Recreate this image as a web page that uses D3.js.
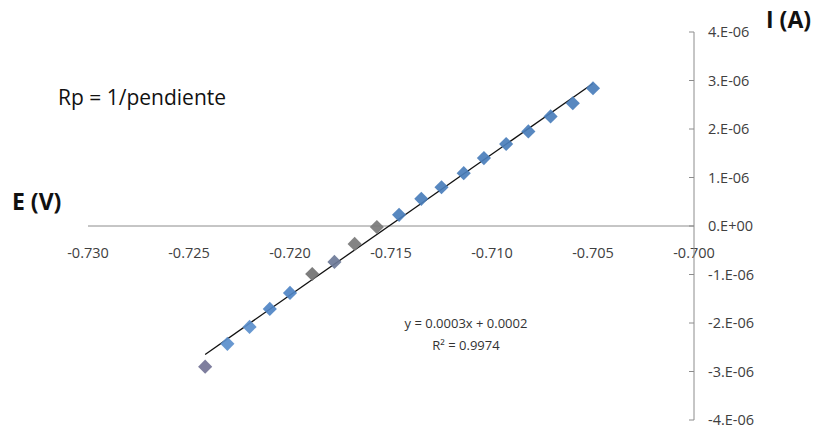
<!DOCTYPE html>
<meta charset="utf-8">
<title>Rp - pendiente</title>
<script src="https://d3js.org/d3.v7.min.js"></script>
<style>
  body { margin: 0; background: #fff; }
  .tick-label { font: 14.5px "Open Sans", "Liberation Sans", sans-serif; fill: #404040; }
  .note { font: 21px "Open Sans", "Liberation Sans", sans-serif; fill: #111; }
  .axis-title { font: bold 23px "Open Sans", "Liberation Sans", sans-serif; fill: #111; }
  .eq { font: 13px "Open Sans", "Liberation Sans", sans-serif; fill: #333; }
</style>
<body>
<svg width="823" height="430"></svg>
<script>
  // potential E (V)
  var potential = [-0.7242, -0.7231, -0.7220, -0.7210, -0.7200, -0.7189, -0.7178, -0.7168, -0.7157, -0.7146,
    -0.7135, -0.7125, -0.7114, -0.7104, -0.7093, -0.7082, -0.7071, -0.7060, -0.7050];
  // current I (A)
  var current = [-2.90e-6, -2.43e-6, -2.08e-6, -1.71e-6, -1.38e-6, -0.99e-6, -0.74e-6, -0.37e-6, -0.02e-6, 0.23e-6,
    0.56e-6, 0.80e-6, 1.09e-6, 1.40e-6, 1.69e-6, 1.95e-6, 2.26e-6, 2.53e-6, 2.84e-6];
  // marker colours as they appear in the picture
  var markerColor = ["#737396", "#5b8fcc", "#5b8fcc", "#4f84c4", "#4f84c4", "#727272", "#6c7a98", "#7a7a7a", "#7a7a7a", "#4a7ebb",
    "#4a7ebb", "#4a7ebb", "#4a7ebb", "#4a7ebb", "#4a7ebb", "#4a7ebb", "#4a7ebb", "#4a7ebb", "#4a7ebb"];

  var xTicks = [-0.730, -0.725, -0.720, -0.715, -0.710, -0.705, -0.700];
  var xTickLabels = ["-0.730", "-0.725", "-0.720", "-0.715", "-0.710", "-0.705", "-0.700"];
  var yTicks = [4e-6, 3e-6, 2e-6, 1e-6, 0, -1e-6, -2e-6, -3e-6, -4e-6];
  var yTickLabels = ["4.E-06", "3.E-06", "2.E-06", "1.E-06", "0.E+00", "-1.E-06", "-2.E-06", "-3.E-06", "-4.E-06"];

  var svg = d3.select("svg");

  var x = d3.scaleLinear().domain([-0.730, -0.700]).range([88, 694]);
  var y = d3.scaleLinear().domain([-4e-6, 4e-6]).range([420, 32]);

  // x axis (through zero)
  svg.append("line")
    .attr("x1", x(-0.730)).attr("x2", x(-0.700))
    .attr("y1", y(0)).attr("y2", y(0))
    .attr("stroke", "#8c8c8c").attr("stroke-width", 1);

  svg.selectAll(".xlab")
    .data(xTicks)
    .enter().append("text")
    .attr("class", "tick-label")
    .attr("x", function (d) { return x(d); })
    .attr("y", y(0) + 32)
    .attr("text-anchor", "middle")
    .text(function (d, i) { return xTickLabels[i]; });

  // y axis on the right (at E = -0.700)
  svg.append("line")
    .attr("x1", x(-0.700)).attr("x2", x(-0.700))
    .attr("y1", y(4e-6)).attr("y2", y(-4e-6))
    .attr("stroke", "#8c8c8c").attr("stroke-width", 1);

  svg.selectAll(".ytick")
    .data(yTicks)
    .enter().append("line")
    .attr("x1", x(-0.700) - 5).attr("x2", x(-0.700))
    .attr("y1", function (d) { return y(d); })
    .attr("y2", function (d) { return y(d); })
    .attr("stroke", "#8c8c8c");

  svg.selectAll(".ylab")
    .data(yTicks)
    .enter().append("text")
    .attr("class", "tick-label")
    .attr("x", x(-0.700) + 14)
    .attr("y", function (d) { return y(d); })
    .attr("dy", "0.35em")
    .text(function (d, i) { return yTickLabels[i]; });

  // least squares trendline
  var mx = d3.mean(potential), my = d3.mean(current);
  var sxy = d3.sum(potential, function (d, i) { return (d - mx) * (current[i] - my); });
  var sxx = d3.sum(potential, function (d) { return (d - mx) * (d - mx); });
  var slope = sxy / sxx, icpt = my - slope * mx;
  var ext = d3.extent(potential);

  svg.append("line")
    .attr("x1", x(ext[0])).attr("y1", y(slope * ext[0] + icpt))
    .attr("x2", x(ext[1])).attr("y2", y(slope * ext[1] + icpt))
    .attr("stroke", "#111").attr("stroke-width", 1.3);

  // markers
  var diamond = d3.symbol().type(d3.symbolSquare).size(100);
  svg.selectAll(".pt")
    .data(potential)
    .enter().append("path")
    .attr("d", diamond)
    .attr("transform", function (d, i) { return "translate(" + x(d) + "," + y(current[i]) + ") rotate(45)"; })
    .attr("fill", function (d, i) { return markerColor[i]; })
    .attr("fill-opacity", 0.92);

  // texts
  svg.append("text").attr("class", "note").attr("x", 58).attr("y", 105).text("Rp = 1/pendiente");
  svg.append("text").attr("class", "axis-title").attr("x", 12).attr("y", 210).text("E (V)");
  svg.append("text").attr("class", "axis-title").attr("x", 766).attr("y", 28).text("I (A)");

  svg.append("text").attr("class", "eq").attr("x", 466).attr("y", 328).attr("text-anchor", "middle")
    .text("y = 0.0003x + 0.0002");
  svg.append("text").attr("class", "eq").attr("x", 466).attr("y", 350).attr("text-anchor", "middle")
    .text("R² = 0.9974");
</script>
</body>
